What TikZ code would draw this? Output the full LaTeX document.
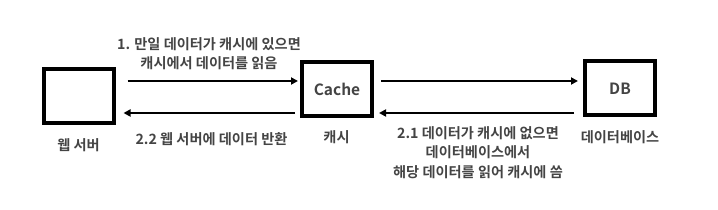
\documentclass[tikz,border=0pt]{standalone}
\usepackage{fontspec}
\newfontfamily\kr{Noto Sans CJK KR}[BoldFont={Noto Sans CJK KR Bold}]
\usetikzlibrary{arrows.meta,calc}
\definecolor{labelgray}{RGB}{68,68,68}
\tikzset{
  box/.style={draw, line width=4pt, minimum width=70pt, minimum height=54pt, inner sep=0pt,
    text=labelgray, font=\kr\bfseries\fontsize{15.5}{18}\selectfont},
  flow/.style={line width=2pt, -{Triangle[length=7pt,width=7pt]}},
  txt/.style={text=labelgray, align=center, inner sep=0pt,
    font=\kr\bfseries\fontsize{14.2}{19.5}\selectfont}
}
\begin{document}
\begin{tikzpicture}[x=1pt, y=1pt]
  \useasboundingbox (0,0) rectangle (718,209);
  \node[box] (web) at (78.5,112.5) {};
  \node[box] (cache) at (337,120) {Cache};
  \node[box] (db) at (620,120.5) {DB};
  \coordinate (hi) at (0,128);
  \coordinate (lo) at (0,96);
  \draw[flow] ($(web.east |- hi)+(12,0)$) -- ($(cache.west |- hi)+(-2,0)$);
  \draw[flow] ($(cache.west |- lo)+(-5,0)$) -- ($(web.east |- lo)+(8,0)$);
  \draw[flow] ($(cache.east |- hi)+(7,0)$) -- ($(db.west |- hi)+(-5,0)$);
  \draw[flow] ($(db.west |- lo)+(-9,0)$) -- ($(cache.east |- lo)+(5,0)$);
  \node[txt] (read) at (209,155.5) {1. 만일 데이터가 캐시에 있으면\\캐시에서 데이터를 읽음};
  \node[txt] (web-label) at (78.5,64) {웹 서버};
  \node[txt] (return) at (211.5,70) {2.2 웹 서버에 데이터 반환};
  \node[txt] (cache-label) at (336.5,71.5) {캐시};
  \node[txt] (db-label) at (620,71.5) {데이터베이스};
  \node[txt] (miss) at (478,56.5) {2.1 데이터가 캐시에 없으면\\데이터베이스에서\\해당 데이터를 읽어 캐시에 씀};
\end{tikzpicture}
\end{document}
